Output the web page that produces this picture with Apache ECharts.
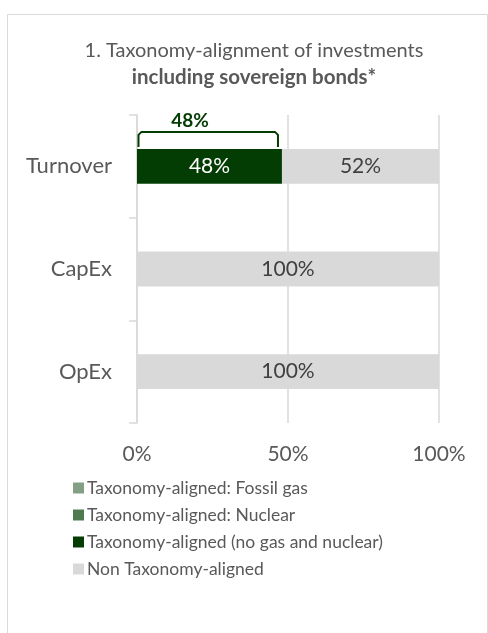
<!DOCTYPE html>
<html>
<head>
<meta charset="utf-8">
<script src="https://cdn.jsdelivr.net/npm/echarts@6/dist/echarts.min.js"></script>
<style>
  html, body { margin: 0; padding: 0; background: #ffffff; }
  #chart { width: 488px; height: 633px; }
</style>
</head>
<body>
<div id="chart"></div>
<script>
// Taxonomy-alignment including sovereign bonds, shares in percent
const categories = ['Turnover', 'CapEx', 'OpEx'];
const fossilGas = [0, 0, 0];
const nuclear = [0, 0, 0];
const alignedNoGasNuclear = [48, 0, 0];
const nonAligned = [52, 100, 100];
// bracket summarising the total aligned share per category
const alignedTotal = [48, null, null];
const xTicks = [0, 50, 100];

const FONT = 'Lato, "Open Sans", sans-serif';
const GREY_TEXT = '#595959';
const GRID_GREY = '#d9d9d9';
const DARK_GREEN = '#033d03';

const chart = echarts.init(document.getElementById('chart'), null, { renderer: 'canvas' });

function valueLabel(color) {
  return {
    show: true,
    position: 'inside',
    color: color,
    fontFamily: FONT,
    fontSize: 21,
    formatter: p => (p.value > 0 ? p.value + '%' : '')
  };
}

const option = {
  backgroundColor: '#ffffff',
  animation: false,
  textStyle: { fontFamily: FONT },
  graphic: [{
    type: 'rect',
    shape: { x: 7.5, y: 14.5, width: 480, height: 640 },
    style: { fill: 'none', stroke: GRID_GREY, lineWidth: 1 },
    silent: true
  }],
  title: {
    left: 249,
    top: 33,
    textAlign: 'center',
    text: '{a|1. Taxonomy-alignment of investments}\n{b|including sovereign bonds*}',
    textStyle: {
      fontWeight: 'normal',
      rich: {
        a: { fontFamily: FONT, fontSize: 20, fontWeight: 'normal', color: GREY_TEXT, lineHeight: 26 },
        b: { fontFamily: FONT, fontSize: 20.5, fontWeight: 'bold', color: GREY_TEXT, lineHeight: 26 }
      }
    }
  },
  legend: {
    orient: 'vertical',
    left: 68,
    top: 474,
    itemWidth: 11,
    itemHeight: 11,
    itemGap: 9,
    icon: 'rect',
    data: [
      'Taxonomy-aligned: Fossil gas',
      'Taxonomy-aligned: Nuclear',
      'Taxonomy-aligned (no gas and nuclear)',
      'Non Taxonomy-aligned'
    ],
    textStyle: { fontFamily: FONT, fontSize: 17.5, lineHeight: 17, color: GREY_TEXT, padding: [0, 0, 0, -2] }
  },
  grid: { left: 137, right: 49, top: 115, bottom: 210, containLabel: false },
  xAxis: {
    type: 'value',
    min: xTicks[0],
    max: xTicks[xTicks.length - 1],
    interval: xTicks[1] - xTicks[0],
    axisLine: { show: false },
    axisTick: { show: false },
    splitLine: { show: true, lineStyle: { color: GRID_GREY, width: 1.5 } },
    axisLabel: {
      formatter: '{value}%',
      margin: 21,
      fontFamily: FONT,
      fontSize: 21,
      color: GREY_TEXT
    }
  },
  yAxis: {
    type: 'category',
    data: categories,
    inverse: true,
    axisLine: { show: true, lineStyle: { color: GRID_GREY, width: 1.5 } },
    axisTick: { show: true, length: 8, lineStyle: { color: GRID_GREY, width: 1.5 } },
    axisLabel: { margin: 25, fontFamily: FONT, fontSize: 22, color: GREY_TEXT }
  },
  series: [
    {
      name: 'Taxonomy-aligned: Fossil gas',
      type: 'bar', stack: 'total', barWidth: '34%',
      itemStyle: { color: '#84a084' },
      label: valueLabel('#ffffff'),
      data: fossilGas
    },
    {
      name: 'Taxonomy-aligned: Nuclear',
      type: 'bar', stack: 'total', barWidth: '34%',
      itemStyle: { color: '#4f7a4f' },
      label: valueLabel('#ffffff'),
      data: nuclear
    },
    {
      name: 'Taxonomy-aligned (no gas and nuclear)',
      type: 'bar', stack: 'total', barWidth: '34%',
      itemStyle: { color: DARK_GREEN },
      label: valueLabel('#ffffff'),
      data: alignedNoGasNuclear
    },
    {
      name: 'Non Taxonomy-aligned',
      type: 'bar', stack: 'total', barWidth: '34%',
      itemStyle: { color: '#d9d9d9' },
      label: valueLabel('#404040'),
      data: nonAligned
    },
    {
      // bracket over the aligned part with its total share
      name: 'aligned-total',
      type: 'custom',
      silent: true,
      z: 5,
      data: alignedTotal.map((v, i) => [i, v]),
      renderItem: function (params, api) {
        const v = api.value(1);
        if (v == null || isNaN(v)) return null;
        const cat = api.value(0);
        const start = api.coord([0, cat]);
        const end = api.coord([v, cat]);
        const band = api.size([0, 1])[1];
        const barTop = start[1] - band * 0.17;
        const x0 = start[0] + 1.5;
        const x1 = end[0] - 4;
        const yTop = barTop - 17;
        const yBot = barTop - 2;
        const r = 3;
        return {
          type: 'group',
          children: [
            {
              type: 'polyline',
              shape: {
                points: [
                  [x0, yBot], [x0, yTop + r], [x0 + r, yTop],
                  [x1 - r, yTop], [x1, yTop + r], [x1, yBot]
                ]
              },
              style: { stroke: DARK_GREEN, lineWidth: 2, fill: 'none' }
            },
            {
              type: 'text',
              x: x0 + (x1 - x0) * 0.37,
              y: yTop - 2,
              style: {
                text: v + '%',
                fill: DARK_GREEN,
                font: 'bold 19px ' + FONT,
                textAlign: 'center',
                textVerticalAlign: 'bottom'
              }
            }
          ]
        };
      }
    }
  ]
};

chart.setOption(option);
</script>
</body>
</html>
